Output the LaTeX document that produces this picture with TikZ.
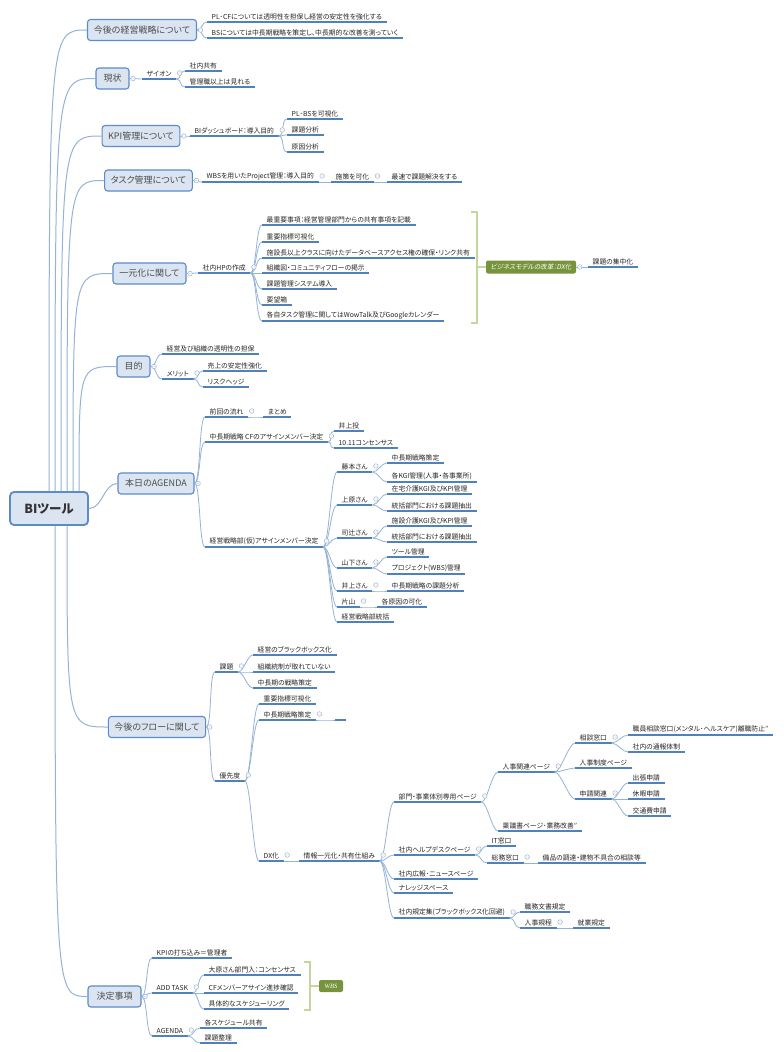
\documentclass[tikz,border=0pt]{standalone}
\usepackage{fontspec}
\setmainfont{Noto Sans CJK JP}[RawFeature=+palt]
\newfontfamily\slantfont{Noto Sans CJK JP}[FakeSlant=0.2,RawFeature=+palt]
\newfontfamily\wbsfont{Liberation Serif}
\usepackage{tikz}
\definecolor{mapline}{HTML}{95B3D7}
\definecolor{uline}{HTML}{4F81BD}
\definecolor{boxfill}{HTML}{DBE5F1}
\definecolor{boxline}{HTML}{5B8BC9}
\definecolor{olive}{HTML}{77933C}
\definecolor{bracketgreen}{HTML}{C3D69B}
\definecolor{foldgray}{HTML}{8EA9C8}
\newcommand\leaffont{\fontsize{6.8}{8}\selectfont}
\newcommand\topicfont{\fontsize{9}{11}\selectfont}

\begin{document}
\begin{tikzpicture}[x=1pt, y=-1pt,
  rootbox/.style={draw=boxline, line width=1.8pt, fill=boxfill, rounded corners=4pt,
    minimum width=78pt, minimum height=33pt, font=\fontsize{12.5}{14}\selectfont\bfseries, text=black!80},
  topic/.style={draw=boxline, line width=1.1pt, fill=boxfill, rounded corners=3pt,
    minimum height=21pt, inner xsep=6pt, font=\topicfont, text=black!70},
  leaf/.style={anchor=south west, inner xsep=4.5pt, inner ysep=2pt, font=\leaffont, text=black!85,
    append after command={(\tikzlastnode.south west) edge[uline] (\tikzlastnode.south east)}},
  uline/.style={draw=uline, line width=1.4pt},
  branch/.style={draw=mapline, line width=0.8pt},
  trunk/.style={draw=mapline, line width=1pt},
  foldmark/.style={draw=foldgray, line width=0.4pt},
  dxbox/.style={fill=olive, rounded corners=2pt, text=white, inner sep=1pt},
  bracketline/.style={draw=bracketgreen, line width=1.8pt}]
  \useasboundingbox (0,0) rectangle (784,1052);
  \fill[white] (0,0) rectangle (784,1052);

  % centre and main topics
  \node[rootbox] (root) at (49,508.5) {BIツール};
  \node[topic, minimum width=109pt] (t1) at (142,30) {今後の経営戦略について};
  \node[topic, minimum width=33pt] (t2) at (112.5,78.5) {現状};
  \node[topic, minimum width=76pt] (t3) at (141,136) {KPI管理について};
  \node[topic, minimum width=83pt] (t4) at (148.5,180.5) {タスク管理について};
  \node[topic, minimum width=73pt] (t5) at (149.5,273.5) {一元化に関して};
  \node[topic, minimum width=33pt] (t6) at (133.5,366.5) {目的};
  \node[topic, minimum width=76pt] (t7) at (156,483.5) {本日のAGENDA};
  \node[topic, minimum width=94pt] (t8) at (157,727) {今後のフローに関して};
  \node[topic, minimum width=53pt] (t9) at (114.5,996.5) {決定事項};

  % trunks from the centre
  \draw[trunk] (root.north) .. controls (49,30) .. (t1.west);
  \draw[trunk] ([xshift=6pt]root.north) .. controls (55,78.5) .. (t2.west);
  \draw[trunk] ([xshift=12pt]root.north) .. controls (61,136) .. (t3.west);
  \draw[trunk] ([xshift=18pt]root.north) .. controls (67,180.5) .. (t4.west);
  \draw[trunk] ([xshift=24pt]root.north) .. controls (73,273.5) .. (t5.west);
  \draw[trunk] ([xshift=30pt]root.north) .. controls (79,366.5) .. (t6.west);
  \draw[trunk] (root.east) .. controls +(14,0) and +(-14,0) .. (t7.west);
  \draw[trunk] ([xshift=18pt]root.south) .. controls (67,727) .. (t8.west);
  \draw[trunk] ([xshift=6pt]root.south) .. controls (55,996.5) .. (t9.west);

  % 今後の経営戦略について
  \node[leaf] (a1) at (207,22) {PL･CFについては透明性を担保し経営の安定性を強化する};
  \node[leaf] (a2) at (207,38) {BSについては中長期戦略を策定し、中長期的な改善を測っていく};

  % 現状
  \node[leaf] (b1) at (142,79) {ザイオン};
  \node[leaf] (b11) at (185,71) {社内共有};
  \node[leaf] (b12) at (185,87) {管理職以上は見れる};

  % KPI管理について
  \node[leaf] (c1) at (190,136) {BIダッシュボード：導入目的};
  \node[leaf] (c11) at (287,119) {PL･BSを可視化};
  \node[leaf] (c12) at (287,135) {課題分析};
  \node[leaf] (c13) at (287,152) {原因分析};

  % タスク管理について
  \node[leaf] (d1) at (202,182) {WBSを用いたProject管理：導入目的};
  \node[leaf] (d2) at (331,182) {施策を可化};
  \node[leaf] (d3) at (387,182) {最速で課題解決をする};

  % 一元化に関して
  \node[leaf] (e1) at (198,273) {社内HPの作成};
  \node[leaf] (e11) at (262,225) {最重要事項：経営管理部門からの共有事項を記載};
  \node[leaf] (e12) at (262,242) {重要指標可視化};
  \node[leaf] (e13) at (262,258) {施設長以上クラスに向けたデータベースアクセス権の確保・リンク共有};
  \node[leaf] (e14) at (262,273) {組織図・コミュニティフローの掲示};
  \node[leaf] (e15) at (262,289) {課題管理システム導入};
  \node[leaf] (e16) at (262,305) {要望箱};
  \node[leaf] (e17) at (262,321) {各自タスク管理に関してはWowTalk及びGoogleカレンダー};
  \node[dxbox, minimum width=90pt, minimum height=13pt, font=\fontsize{6.6}{7}\selectfont] (dx) at (531,267) {\slantfont ビジネスモデルの改革：DX化};
  \node[leaf] (e2) at (588,267) {課題の集中化};
  \draw[bracketline] (471,212) -- (477,212) -- (477,323) -- (471,323) (477,267) -- (dx.west);

  % 目的
  \node[leaf] (f1) at (162,354) {経営及び組織の透明性の担保};
  \node[leaf] (f2) at (162,379) {メリット};
  \node[leaf] (f21) at (203,371) {売上の安定性強化};
  \node[leaf] (f22) at (203,387) {リスクヘッジ};

  % 本日のAGENDA
  \node[leaf] (g1) at (205,417) {前回の流れ};
  \node[leaf] (g11) at (263,417) {まとめ};
  \node[leaf] (g2) at (205,442) {中長期戦略 CFのアサインメンバー決定};
  \node[leaf] (g21) at (334,431) {井上投};
  \node[leaf] (g22) at (334,448) {10.11コンセンサス};
  \node[leaf] (g3) at (205,547) {経営戦略部(仮)アサインメンバー決定};
  \node[leaf] (h1) at (337,472) {藤本さん};
  \node[leaf] (h11) at (387,463) {中長期戦略策定};
  \node[leaf] (h12) at (387,482) {各KGI管理(人事・各事業所)};
  \node[leaf] (h2) at (337,505) {上原さん};
  \node[leaf] (h21) at (387,494) {在宅介護KGI及びKPI管理};
  \node[leaf] (h22) at (387,511) {統括部門における課題抽出};
  \node[leaf] (h3) at (337,538) {司辻さん};
  \node[leaf] (h31) at (387,526) {施設介護KGI及びKPI管理};
  \node[leaf] (h32) at (387,542) {統括部門における課題抽出};
  \node[leaf] (h4) at (337,568) {山下さん};
  \node[leaf] (h41) at (387,557) {ツール管理};
  \node[leaf] (h42) at (387,574) {プロジェクト(WBS)管理};
  \node[leaf] (h5) at (337,591) {井上さん};
  \node[leaf] (h51) at (387,591) {中長期戦略の課題分析};
  \node[leaf] (h6) at (337,607) {片山};
  \node[leaf] (h61) at (377,607) {各原因の可化};
  \node[leaf] (h7) at (337,622) {経営戦略部統括};

  % 今後のフローに関して
  \node[leaf] (i1) at (215,672) {課題};
  \node[leaf] (i11) at (253,655) {経営のブラックボックス化};
  \node[leaf] (i12) at (253,672) {組織統制が取れていない};
  \node[leaf] (i13) at (253,688) {中長期の戦略策定};
  \node[leaf] (i2) at (215,781) {優先度};
  \node[leaf] (i21) at (259,704) {重要指標可視化};
  \node[leaf] (i22) at (259,720) {中長期戦略策定};
  \node[leaf, minimum width=11pt] (i221) at (335,720) {};
  \node[leaf] (i23) at (259,861) {DX化};
  \node[leaf] (j1) at (299,861) {情報一元化・共有仕組み};
  \node[leaf] (j11) at (394,802) {部門・事業体別専用ページ};
  \node[leaf] (j111) at (498,772) {人事関連ページ};
  \node[leaf] (j1111) at (575,743) {相談窓口};
  \node[leaf] (k1) at (628,735) {職員相談窓口(メンタル･ヘルスケア)離職防止”};
  \node[leaf] (k2) at (628,752) {社内の通報体制};
  \node[leaf] (j1112) at (575,768) {人事制度ページ};
  \node[leaf] (j1113) at (575,799) {申請関連};
  \node[leaf] (k3) at (628,783) {出張申請};
  \node[leaf] (k4) at (628,799) {休暇申請};
  \node[leaf] (k5) at (628,816) {交通費申請};
  \node[leaf] (j112) at (498,831) {稟議書ページ･業務改善”};
  \node[leaf] (j12) at (394,855) {社内ヘルプデスクページ};
  \node[leaf] (l1) at (487,846) {IT窓口};
  \node[leaf] (l2) at (487,863) {総務窓口};
  \node[leaf] (l21) at (538,863) {備品の調達・建物不具合の相談等};
  \node[leaf] (j13) at (394,879) {社内広報･ニュースページ};
  \node[leaf] (j14) at (394,893) {ナレッジスペース};
  \node[leaf] (j15) at (394,918) {社内規定集(ブラックボックス化回避)};
  \node[leaf] (m1) at (520,912) {職務文書規定};
  \node[leaf] (m2) at (520,928) {人事規程};
  \node[leaf] (m21) at (573,928) {就業規定};

  % 決定事項
  \node[leaf] (n1) at (152,958) {KPIの打ち込み＝管理者};
  \node[leaf] (n2) at (152,993) {ADD TASK};
  \node[leaf] (n21) at (204,975) {大原さん部門入：コンセンサス};
  \node[leaf] (n22) at (204,993) {CFメンバーアサイン進捗確認};
  \node[leaf] (n23) at (204,1009) {具体的なスケジューリング};
  \node[dxbox, minimum width=24pt, minimum height=12pt, font=\wbsfont\itshape\fontsize{6.5}{7}\selectfont] (wbs) at (331,986) {WBS};
  \draw[bracketline] (304,962) -- (310,962) -- (310,1010) -- (304,1010) (310,986) -- (wbs.west);
  \node[leaf] (n3) at (152,1036) {AGENDA};
  \node[leaf] (n31) at (200,1028) {各スケジュール共有};
  \node[leaf] (n32) at (200,1043) {課題整理};

  % branches out of boxes
  \foreach \p/\c in {t1/a1,t1/a2,t2/b1,t3/c1,t4/d1,t5/e1,t6/f1,t6/f2,t7/g1,t7/g2,t7/g3,
      t8/i1,t8/i2,t9/n1,t9/n2,t9/n3,dx/e2}
    \draw[branch] (\p.east) .. controls +(6,0) and +(-6,0) .. (\c.south west);
  % branches between underlined topics
  \foreach \p/\c in {b1/b11,b1/b12,c1/c11,c1/c12,c1/c13,d1/d2,d2/d3,
      e1/e11,e1/e12,e1/e13,e1/e14,e1/e15,e1/e16,e1/e17,f2/f21,f2/f22,
      g1/g11,g2/g21,g2/g22,g3/h1,g3/h2,g3/h3,g3/h4,g3/h5,g3/h6,g3/h7,
      h1/h11,h1/h12,h2/h21,h2/h22,h3/h31,h3/h32,h4/h41,h4/h42,h5/h51,h6/h61,
      i1/i11,i1/i12,i1/i13,i2/i21,i2/i22,i2/i23,i22/i221,i23/j1,
      j1/j11,j1/j12,j1/j13,j1/j14,j1/j15,j11/j111,j11/j112,
      j111/j1111,j111/j1112,j111/j1113,j1111/k1,j1111/k2,j1113/k3,j1113/k4,j1113/k5,
      j12/l1,j12/l2,l2/l21,j15/m1,j15/m2,m2/m21,
      n2/n21,n2/n22,n2/n23,n3/n31,n3/n32}
    \draw[branch] (\p.south east) .. controls +(6,0) and +(-6,0) .. (\c.south west);

  % collapse marks
  \foreach \n in {t1,t2,t3,t4,t5,t6,t7,t8,t9,dx}
    \draw[foldmark, fill=white] ([xshift=3.5pt]\n.east) circle (2.3pt) +(-1.2pt,0) -- +(1.2pt,0);
  \foreach \n in {b1,c1,d1,d2,e1,f2,g1,g2,g3,h1,h2,h3,h4,h5,h6,i1,i2,i22,i23,
      j1,j11,j111,j1111,j1113,j12,l2,j15,m2,n2,n3}
    \draw[foldmark, fill=white] ([xshift=3.5pt,yshift=6pt]\n.south east) circle (2.3pt) +(-1.2pt,0) -- +(1.2pt,0);
\end{tikzpicture}
\end{document}
